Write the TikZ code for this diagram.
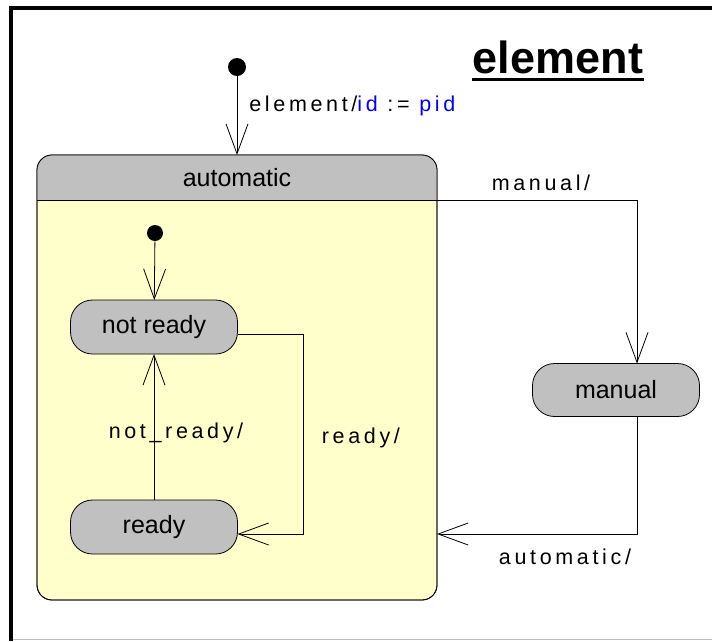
\documentclass[tikz,border=0pt]{standalone}
\usepackage{fontspec}
\setmainfont{Liberation Sans}
\newfontfamily\espacado[LetterSpace=17]{Liberation Sans}
\usetikzlibrary{arrows.meta, positioning}
\definecolor{meucinza}{RGB}{192, 192, 192}
\definecolor{meuamarelo}{RGB}{255, 255, 204}
\definecolor{meuazul}{RGB}{0, 0, 255}

\begin{document}
\begin{tikzpicture}[
    x=1pt, y=-1pt,
    line width=0.8pt,
    state/.style={draw, fill=meucinza, rounded corners=22pt, minimum width=167pt,
        minimum height=54pt, inner sep=0pt, outer sep=0pt, font=\fontsize{25}{30}\selectfont},
    start/.style={circle, fill=black, minimum size=18pt, inner sep=0pt},
    composite/.style={draw, fill=meuamarelo, rounded corners=15pt, minimum width=400pt,
        minimum height=445pt, outer sep=0pt},
    trans/.style={-{Straight Barb[length=30pt, width=22pt]}},
    lbl/.style={font=\fontsize{21.5}{25}\espacado, inner sep=2pt}
]
    \useasboundingbox (0,0) rectangle (712,641);
    % moldura
    \draw[line width=4pt] (11,641) -- (11,8) -- (720,8);
    \draw[black!25, line width=1pt] (13,639.5) -- (712,639.5);

    % titulo
    \node (title) at (558,57) {\fontsize{45}{52}\selectfont\bfseries element};
    \draw[line width=3pt] (472,79) -- (644,79);

    % estado composto
    \node[composite] (auto) at (237,377.5) {};
    \coordinate (split) at (0,200);
    \begin{scope}
        \clip (auto.north west) rectangle (auto.east |- split);
        \fill[meucinza, rounded corners=15pt] (auto.north west) rectangle (auto.south east);
    \end{scope}
    \draw[rounded corners=15pt] (auto.north west) rectangle (auto.south east);
    \draw (auto.west |- split) -- (auto.east |- split);
    \node (autolabel) at (237,178) {\fontsize{25}{30}\selectfont automatic};

    \node[start] (init) at (237,67) {};
    \node[start, minimum size=16pt] (innerinit) at (155,233) {};
    \node[state] (notready) at (154,327) {not ready};
    \node[state] (ready) [below=146pt of notready] {ready};
    \node[state, minimum height=53pt] (manual) at (616,390) {manual};

    \coordinate (out) at ([yshift=-7pt]notready.east);
    \coordinate (back) at ([yshift=-7pt]ready.east);

    \draw[trans] (init) -- (auto.north)
        node[lbl, pos=0.37, right=10pt] {element/\textcolor{meuazul}{id} := \textcolor{meuazul}{pid}};
    \draw[trans] (innerinit) -- (notready);
    \draw[trans] (ready) -- (notready)
        node[lbl, pos=0.46, xshift=22pt] {not\_ready/};
    \draw[trans] (out) -- ++(66,0) |- (back)
        node[lbl, pos=0.26, right=16pt] {ready/};
    \draw[trans] (auto.east |- split) -| ([xshift=21pt]manual.north)
        node[lbl, pos=0.26, above=7pt] {manual/};
    \draw[trans] ([xshift=21pt]manual.south) |- (auto.east |- back)
        node[lbl, pos=0.68, below=13pt] {automatic/};
\end{tikzpicture}
\end{document}
